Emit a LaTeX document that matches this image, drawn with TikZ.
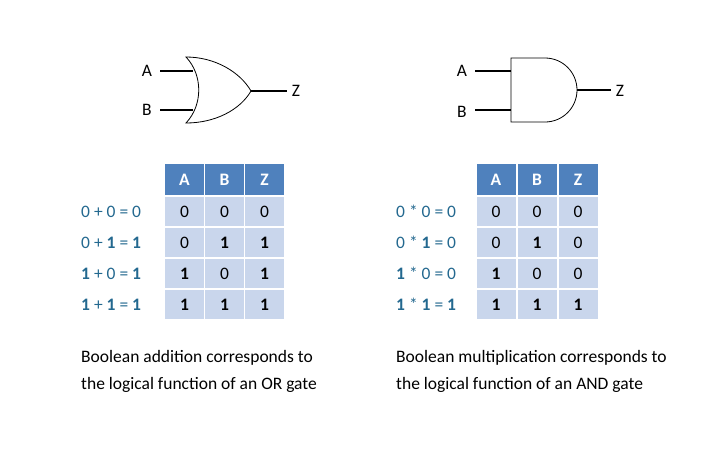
\documentclass[tikz,border=0pt]{standalone}
\usepackage{fontspec}
\setmainfont{Carlito}
\definecolor{hdr}{HTML}{4F81BD}
\definecolor{cell}{HTML}{C9D6EC}
\definecolor{eq}{HTML}{23688F}
\begin{document}
\begin{tikzpicture}[x=1pt,y=-1pt,font=\fontsize{17.5}{21}\selectfont,
  wire/.style={line width=2pt},
  gate/.style={line width=0.8pt,fill=white},
  lbl/.style={inner sep=0pt},
  hd/.style={fill=hdr,text=white,minimum width=39pt,minimum height=31pt,inner sep=0pt,font=\fontsize{17.5}{21}\selectfont\bfseries},
  cl/.style={fill=cell,minimum width=39pt,minimum height=29pt,inner sep=0pt},
  eqn/.style={anchor=west,text=eq,inner sep=0pt},
  captxt/.style={anchor=north west,align=left,inner sep=0pt,font=\fontsize{17.5}{27}\selectfont}]
\useasboundingbox (0,0) rectangle (720,450);
% OR gate
\coordinate (orA) at (193,71); \coordinate (orB) at (193,110); \coordinate (orZ) at (251,91);
\node[lbl] (la1) at (147,71) {A};
\node[lbl] (lb1) at (147,110) {B};
\node[lbl] (lz1) at (296,91) {Z};
\coordinate (oa) at (160,71); \coordinate (ob) at (160,110); \coordinate (oz) at (287,91);
\draw[wire] (oa) -- (orA); \draw[wire] (ob) -- (orB); \draw[wire] (orZ) -- (oz);
\draw[gate] (186,57) .. controls (215,57) and (240,72) .. (251,91)
  .. controls (240,110) and (215,123) .. (186,123)
  .. controls (203,105) and (203,75) .. (186,57) -- cycle;
% AND gate
\coordinate (anA) at (511,71); \coordinate (anB) at (511,110); \coordinate (anZ) at (577,90);
\node[lbl] (la2) at (462,71) {A};
\node[lbl] (lb2) at (462,112) {B};
\node[lbl] (lz2) at (620,91) {Z};
\coordinate (aa) at (475,71); \coordinate (ab) at (475,110); \coordinate (az) at (611,90);
\draw[wire] (aa) -- (anA); \draw[wire] (ab) -- (anB); \draw[wire] (anZ) -- (az);
\draw[gate] (511,58) -- (545,58) arc[start angle=-90,end angle=90,radius=32] -- (511,122) -- cycle;
% left table
\foreach \c/\x in {A/184.5,B/224.5,Z/264.5}{\node[hd] (lh\c) at (\x,179.5) {\c};}
\node[cl] (l11) at (184.5,211.5) {0}; \node[cl] (l12) at (224.5,211.5) {0}; \node[cl] (l13) at (264.5,211.5) {0};
\node[cl] (l21) at (184.5,242.5) {0}; \node[cl] (l22) at (224.5,242.5) {\textbf{1}}; \node[cl] (l23) at (264.5,242.5) {\textbf{1}};
\node[cl] (l31) at (184.5,273.5) {\textbf{1}}; \node[cl] (l32) at (224.5,273.5) {0}; \node[cl] (l33) at (264.5,273.5) {\textbf{1}};
\node[cl] (l41) at (184.5,304.5) {\textbf{1}}; \node[cl] (l42) at (224.5,304.5) {\textbf{1}}; \node[cl] (l43) at (264.5,304.5) {\textbf{1}};
\node[eqn] (le1) at (81,211.5) {0 + 0 = 0};
\node[eqn] (le2) at (81,242.5) {0 + \textbf{1} = \textbf{1}};
\node[eqn] (le3) at (81,273.5) {\textbf{1} + 0 = \textbf{1}};
\node[eqn] (le4) at (81,304.5) {\textbf{1} + \textbf{1} = \textbf{1}};
% right table
\foreach \c/\x in {A/496,B/537,Z/578}{\node[hd] (rh\c) at (\x,179.5) {\c};}
\node[cl] (r11) at (496,211.5) {0}; \node[cl] (r12) at (537,211.5) {0}; \node[cl] (r13) at (578,211.5) {0};
\node[cl] (r21) at (496,242.5) {0}; \node[cl] (r22) at (537,242.5) {\textbf{1}}; \node[cl] (r23) at (578,242.5) {0};
\node[cl] (r31) at (496,273.5) {\textbf{1}}; \node[cl] (r32) at (537,273.5) {0}; \node[cl] (r33) at (578,273.5) {0};
\node[cl] (r41) at (496,304.5) {\textbf{1}}; \node[cl] (r42) at (537,304.5) {\textbf{1}}; \node[cl] (r43) at (578,304.5) {\textbf{1}};
\node[eqn] (re1) at (396,211.5) {0 * 0 = 0};
\node[eqn] (re2) at (396,242.5) {0 * \textbf{1} = 0};
\node[eqn] (re3) at (396,273.5) {\textbf{1} * 0 = 0};
\node[eqn] (re4) at (396,304.5) {\textbf{1} * \textbf{1} = \textbf{1}};
% captions
\node[captxt] (c1) at (81,350) {Boolean addition corresponds to\\the logical function of an OR gate};
\node[captxt] (c2) at (396,350) {Boolean multiplication corresponds to\\the logical function of an AND gate};
\end{tikzpicture}
\end{document}
